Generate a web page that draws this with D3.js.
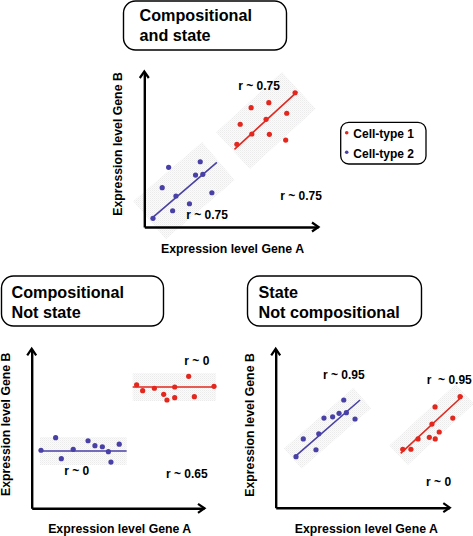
<!DOCTYPE html>
<html><head><meta charset="utf-8">
<script src="https://cdn.jsdelivr.net/npm/d3@7"></script>
<style>
html,body{margin:0;padding:0;background:#fff;}
svg{display:block;font-family:"Liberation Sans",Arial,Helvetica,sans-serif;font-weight:bold;}
</style></head>
<body><svg id="chart" width="473" height="536"></svg>
<script>
// ---------------- DATA (axis units 0-100, no ticks) ----------------
const seriesNames = ["Cell-type 1", "Cell-type 2"];
const axisLabelX = "Expression level Gene A";
const axisLabelY = "Expression level Gene B";

// Panel 1: Compositional and state
const p1Title = ["Compositional", "and state"];
const p1Red = [[53.3,53.4],[55.2,66.3],[61.5,77.0],[61.9,60.0],[70.1,69.5],[71.7,80.2],[72.0,59.8],[81.4,56.1],[82.0,73.4],[86.8,86.6]];
const p1Blue = [[5.0,5.6],[14.0,38.5],[10.3,25.4],[18.2,20.0],[16.3,10.5],[26.0,15.0],[29.5,33.5],[32.2,42.1],[33.7,34.0],[38.9,22.1]];
const p1RedFit = [[51.9,50.1],[88.1,87.3]];
const p1BlueFit = [[3.9,5.2],[41.8,41.7]];
const p1Notes = [{x:54.1,y:88.4,t:"r ~ 0.75"},{x:78.2,y:17.4,t:"r ~ 0.75"},{x:24.1,y:5.2,t:"r ~ 0.75"}];

// Panel 2: Compositional, not state
const p2Title = ["Compositional", "Not state"];
const p2Red = [[60.9,77.7],[64.4,74.0],[71.2,75.5],[76.6,71.7],[78.5,68.1],[83.0,76.3],[83.0,69.6],[91.1,83.0],[94.4,70.2],[105.8,76.7]];
const p2Blue = [[5.4,36.5],[13.9,44.4],[17.2,31.2],[24.1,37.1],[32.7,42.5],[36.7,39.4],[41.0,38.7],[44.5,35.6],[46.0,29.1],[50.8,40.3]];
const p2RedFit = [[58.6,76.3],[107.0,76.3]];
const p2BlueFit = [[4.8,36.0],[55.1,36.0]];
const p2Notes = [{x:88.6,y:90.3,t:"r ~ 0"},{x:18.9,y:21.1,t:"r ~ 0"},{x:77.9,y:19.1,t:"r ~ 0.65"}];

// Panel 3: State, not compositional
const p3Title = ["State", "Not compositional"];
const p3Red = [[73.2,36.9],[77.9,36.9],[82.0,43.4],[88.5,44.4],[90.0,52.8],[91.8,63.6],[91.9,43.4],[94.2,47.8],[102.0,56.6],[106.2,70.1]];
const p3Blue = [[11.7,32.2],[15.9,43.4],[23.2,36.6],[24.8,46.7],[27.8,56.6],[32.8,57.4],[36.5,59.6],[39.2,68.0],[40.7,60.0],[45.7,56.0]];
const p3RedFit = [[72.0,34.3],[107.7,70.5]];
const p3BlueFit = [[11.1,32.2],[48.6,68.0]];
const p3Notes = [{x:27.2,y:81.3,t:"r ~ 0.95"},{x:87.0,y:78.1,t:"r  ~ 0.95"},{x:86.6,y:13.9,t:"r ~ 0"}];

// ---------------- STYLE / LAYOUT ----------------
const RED = "#e4261d", BLUE = "#4840a6";
const svg = d3.select("#chart");

const defs = svg.append("defs");
const pat = defs.append("pattern").attr("id","dots").attr("patternUnits","userSpaceOnUse")
  .attr("width",2).attr("height",2);
pat.append("rect").attr("width",2).attr("height",2).attr("fill","#fbfbfb");
pat.append("rect").attr("width",1).attr("height",1).attr("fill","#ebebeb");
pat.append("rect").attr("x",1).attr("y",1).attr("width",1).attr("height",1).attr("fill","#f3f3f3");

function titleBox(box, lines){
  svg.append("rect").attr("x",box.x).attr("y",box.y).attr("width",box.w).attr("height",box.h)
    .attr("rx",12).attr("ry",12).attr("fill","#fff").attr("stroke","#000").attr("stroke-width",1.4);
  const t = svg.append("text").attr("font-size",16.2).attr("fill","#000");
  lines.forEach((l,i)=>t.append("tspan").attr("x",box.tx).attr("y",box.ty + i*20).text(l));
}

function panel(cfg){
  const x = d3.scaleLinear().domain([0,100]).range([cfg.x0, cfg.x1]);
  const y = d3.scaleLinear().domain([0,100]).range([cfg.y0, cfg.y1]);
  const g = svg.append("g");

  // bands
  [[cfg.blueFit],[cfg.redFit]].forEach(([fit])=>{
    const p0=[x(fit[0][0]),y(fit[0][1])], p1=[x(fit[1][0]),y(fit[1][1])];
    const dx=p1[0]-p0[0], dy=p1[1]-p0[1], L=Math.hypot(dx,dy);
    const u=[dx/L,dy/L], n=[-u[1],u[0]];
    const e=cfg.ext, w=cfg.hw;
    const a=[p0[0]-u[0]*e, p0[1]-u[1]*e], b=[p1[0]+u[0]*e, p1[1]+u[1]*e];
    const poly=[[a[0]+n[0]*w,a[1]+n[1]*w],[b[0]+n[0]*w,b[1]+n[1]*w],[b[0]-n[0]*w,b[1]-n[1]*w],[a[0]-n[0]*w,a[1]-n[1]*w]];
    g.append("path").attr("d","M"+poly.map(p=>p.join(",")).join("L")+"Z").attr("fill","url(#dots)");
  });

  // axes (no ticks) + arrowheads
  g.append("g").attr("transform",`translate(0,${cfg.y0})`)
    .call(d3.axisBottom(x).tickValues([]).tickSizeOuter(0))
    .select(".domain").attr("stroke","#000").attr("stroke-width",2.4);
  g.append("g").attr("transform",`translate(${cfg.x0},0)`)
    .call(d3.axisLeft(y).tickValues([]).tickSizeOuter(0))
    .select(".domain").attr("stroke","#000").attr("stroke-width",2.4);
  const xe=x(100), ye=y(100);
  g.append("path").attr("d",`M${xe-6},${cfg.y0-4.5}L${xe+0.5},${cfg.y0}L${xe-6},${cfg.y0+4.5}`)
    .attr("fill","none").attr("stroke","#000").attr("stroke-width",2.2).attr("stroke-linejoin","miter");
  g.append("path").attr("d",`M${cfg.x0-4.5},${ye+6}L${cfg.x0},${ye-0.5}L${cfg.x0+4.5},${ye+6}`)
    .attr("fill","none").attr("stroke","#000").attr("stroke-width",2.2).attr("stroke-linejoin","miter");

  // fit lines
  const line = d3.line().x(d=>x(d[0])).y(d=>y(d[1]));
  g.append("path").attr("d",line(cfg.blueFit)).attr("stroke",BLUE).attr("stroke-width",1.6).attr("fill","none");
  g.append("path").attr("d",line(cfg.redFit)).attr("stroke",RED).attr("stroke-width",1.6).attr("fill","none");

  // points
  g.selectAll(null).data(cfg.blue).join("circle").attr("cx",d=>x(d[0])).attr("cy",d=>y(d[1])).attr("r",2.6).attr("fill",BLUE);
  g.selectAll(null).data(cfg.red).join("circle").attr("cx",d=>x(d[0])).attr("cy",d=>y(d[1])).attr("r",2.6).attr("fill",RED);

  // notes
  g.selectAll(null).data(cfg.notes).join("text").attr("x",d=>x(d.x)).attr("y",d=>y(d.y))
    .attr("font-size",12).attr("fill","#000").style("white-space","pre").attr("xml:space","preserve").text(d=>d.t);

  // axis labels
  g.append("text").attr("x",cfg.xlx).attr("y",cfg.xly).attr("text-anchor","middle").attr("font-size",12.3).text(axisLabelX);
  g.append("text").attr("transform",`translate(${cfg.ylx},${cfg.yly}) rotate(-90)`).attr("text-anchor","middle").attr("font-size",12.3).text(axisLabelY);
}

titleBox({x:123.5,y:1,w:163,h:49,tx:139.5,ty:20.5}, p1Title);
titleBox({x:1.5,y:276,w:162,h:50,tx:11.5,ty:297.5}, p2Title);
titleBox({x:247.5,y:276,w:174,h:50,tx:258.5,ty:297.5}, p3Title);

panel({x0:144.3,x1:318,y0:227,y1:72,hw:25,ext:2,red:p1Red,blue:p1Blue,redFit:p1RedFit,blueFit:p1BlueFit,notes:p1Notes,
  xlx:232.5,xly:253,ylx:122,yly:144});
panel({x0:31.7,x1:204,y0:508.3,y1:349.3,hw:14,ext:0,red:p2Red,blue:p2Blue,redFit:p2RedFit,blueFit:p2BlueFit,notes:p2Notes,
  xlx:119.7,xly:533,ylx:9.5,yly:424.3});
panel({x0:275.7,x1:449.3,y0:507.7,y1:349.3,hw:13.5,ext:3,red:p3Red,blue:p3Blue,redFit:p3RedFit,blueFit:p3BlueFit,notes:p3Notes,
  xlx:366.3,xly:533,ylx:254,yly:425});

// legend
svg.append("rect").attr("x",340.7).attr("y",122.3).attr("width",85.3).attr("height",41.7)
  .attr("rx",8).attr("ry",8).attr("fill","#fff").attr("stroke","#000").attr("stroke-width",1.3);
const legendColors=[RED,BLUE];
const lg = svg.selectAll(".lg").data(seriesNames).join("g").attr("class","lg")
  .attr("transform",(d,i)=>`translate(346.7,${132.7+i*19.6})`);
lg.append("circle").attr("r",1.8).attr("fill",(d,i)=>legendColors[i]);
lg.append("text").attr("x",6.6).attr("y",5.4).attr("font-size",12).text(d=>d);
</script></body></html>
